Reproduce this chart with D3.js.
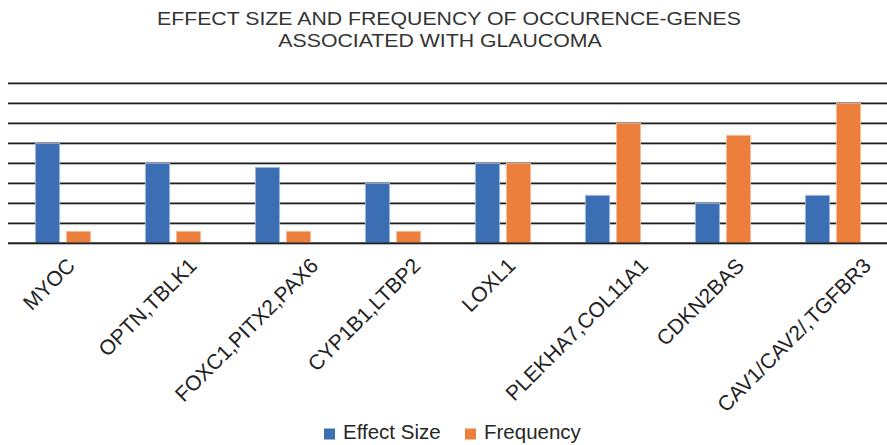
<!DOCTYPE html>
<html>
<head>
<meta charset="utf-8">
<script src="https://cdn.jsdelivr.net/npm/d3@7"></script>
<style>
  html, body { margin: 0; padding: 0; background: #fff; }
  svg { display: block; font-family: "Liberation Sans", Arial, sans-serif; }
</style>
</head>
<body>
<svg id="chart" width="887" height="445"></svg>
<script>
const categories = ["MYOC", "OPTN,TBLK1", "FOXC1,PITX2,PAX6", "CYP1B1,LTBP2", "LOXL1", "PLEKHA7,COL11A1", "CDKN2BAS", "CAV1/CAV2/,TGFBR3"];
const seriesNames = ["Effect Size", "Frequency"];
const effectSize = [5, 4, 3.8, 3, 4, 2.4, 2, 2.4];
const frequency = [0.6, 0.6, 0.6, 0.6, 4, 6, 5.4, 7];
const gridTicks = [0, 1, 2, 3, 4, 5, 6, 7, 8];
const titleLines = ["EFFECT SIZE AND FREQUENCY OF OCCURENCE-GENES", "ASSOCIATED WITH GLAUCOMA"];

const colors = { "Effect Size": "#3c6eb4", "Frequency": "#ec7f3c" };
const strokes = { "Effect Size": "#a9c0e2", "Frequency": "#f6c3a3" };

const svg = d3.select("#chart");
const plotLeft = 8, plotRight = 888, plotTop = 83.3, plotBottom = 243.3;

const x0 = d3.scaleBand().domain(categories).range([plotLeft, plotRight]).padding(0);
const x1 = d3.scaleBand().domain(seriesNames).range([0, x0.bandwidth()]).paddingInner(0.216).paddingOuter(0.882);
const y = d3.scaleLinear().domain([0, 8]).range([plotBottom, plotTop]);

// title
const title = svg.append("g").attr("fill", "#333").style("font-size", "18.5px");
const titleX = [449, 440];
const titleY = [24.5, 47];
titleLines.forEach((t, i) => {
  title.append("text")
    .attr("transform", `translate(${titleX[i]},${titleY[i]}) scale(1.15,1)`)
    .attr("text-anchor", "middle")
    .text(t);
});

// gridlines
const grid = svg.append("g");
gridTicks.forEach(v => {
  grid.append("line").attr("x1", plotLeft).attr("x2", 887).attr("y1", y(v) + 1.3).attr("y2", y(v) + 1.3)
    .attr("stroke", "#b5b5b5").attr("stroke-width", 1);
  grid.append("line").attr("x1", plotLeft).attr("x2", 887).attr("y1", y(v)).attr("y2", y(v))
    .attr("stroke", "#1e1e1e").attr("stroke-width", 1.4);
});

// bars
const data = categories.map((c, i) => ({ cat: c, values: [
  { key: "Effect Size", value: effectSize[i] },
  { key: "Frequency", value: frequency[i] }
]}));

const groups = svg.append("g").selectAll("g").data(data).join("g")
  .attr("transform", d => `translate(${x0(d.cat)},0)`);
groups.selectAll("rect").data(d => d.values).join("rect")
  .attr("x", d => x1(d.key))
  .attr("width", x1.bandwidth())
  .attr("y", d => y(d.value))
  .attr("height", d => y(0) - y(d.value))
  .attr("fill", d => colors[d.key])
  .attr("stroke", d => strokes[d.key])
  .attr("stroke-width", 0.8);

// baseline redraw on top
svg.append("line").attr("x1", plotLeft).attr("x2", 887).attr("y1", y(0)).attr("y2", y(0))
  .attr("stroke", "#1e1e1e").attr("stroke-width", 1.4);

// category labels
const labels = svg.append("g").attr("fill", "#222").style("font-size", "21px");
categories.forEach(c => {
  const t = labels.append("text").attr("text-anchor", "end").text(c);
  const L = t.node().getComputedTextLength();
  const cx = x0(c) + x0.bandwidth() / 2;
  t.attr("transform", `translate(${cx + 0.18 * L + 2},267) rotate(-45)`);
});

// legend
const legend = svg.append("g").style("font-size", "20.5px").attr("fill", "#262626");
const legendX = [324, 465];
seriesNames.forEach((s, i) => {
  legend.append("rect").attr("x", legendX[i]).attr("y", 428.5).attr("width", 11).attr("height", 11)
    .attr("fill", colors[s]);
  legend.append("text").attr("x", legendX[i] + 19).attr("y", 438.5).text(s);
});
</script>
</body>
</html>
